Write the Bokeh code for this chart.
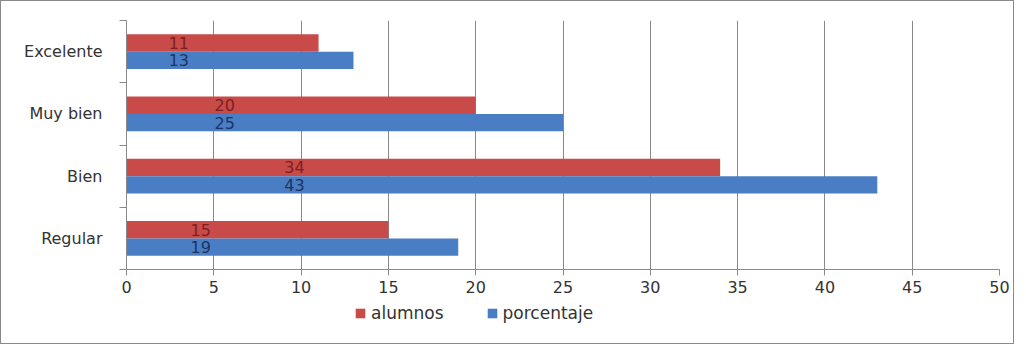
from bokeh.plotting import figure
from bokeh.layouts import column
from bokeh.models import (Range1d, FixedTicker, ColumnDataSource, Legend, LegendItem,
                          LabelSet)
from bokeh.core.properties import value
from bokeh.embed import file_html
from bokeh.resources import INLINE

categories = ["Excelente", "Muy bien", "Bien", "Regular"]
alumnos = [11, 20, 34, 15]
porcentaje = [13, 25, 43, 19]
x_ticks = [0, 5, 10, 15, 20, 25, 30, 35, 40, 45, 50]
series_names = ["alumnos", "porcentaje"]

RED = "#C84B49"
BLUE = "#4A7EC4"
FONT = "DejaVu Sans"
W = 1012

n = len(categories)
centers = [n - i - 0.5 for i in range(n)]
bar_h = 0.28
# value labels sit near the start of the bars, one anchor per category pair
pair_anchor = [(a + b) / 2 * 0.25 for a, b in zip(alumnos, porcentaje)]

src_a = ColumnDataSource(dict(
    y=[c + bar_h / 2 for c in centers], v=alumnos,
    lx=pair_anchor, t=[str(v) for v in alumnos]))
src_p = ColumnDataSource(dict(
    y=[c - bar_h / 2 for c in centers], v=porcentaje,
    lx=pair_anchor, t=[str(v) for v in porcentaje]))

p = figure(width=W, height=300, output_backend="svg", toolbar_location=None,
           x_range=Range1d(0, 50), y_range=Range1d(0, n),
           min_border_left=125, min_border_right=14, min_border_top=19,
           min_border_bottom=32)
p.outline_line_color = None

p.hbar(y="y", right="v", left=0, height=bar_h, source=src_a,
       fill_color=RED, line_color=None)
p.hbar(y="y", right="v", left=0, height=bar_h, source=src_p,
       fill_color=BLUE, line_color=None)

p.add_layout(LabelSet(x="lx", y="y", text="t", source=src_a, text_align="center",
                      text_baseline="middle", text_font=value(FONT),
                      text_font_size="16px", text_color="#7E1F1D"))
p.add_layout(LabelSet(x="lx", y="y", text="t", source=src_p, text_align="center",
                      text_baseline="middle", text_font=value(FONT),
                      text_font_size="16px", text_color="#1B3463"))

# x axis
p.xaxis.ticker = FixedTicker(ticks=x_ticks)
p.xaxis.axis_line_color = "#8a8a8a"
p.xaxis.major_tick_line_color = "#8a8a8a"
p.xaxis.major_tick_out = 6
p.xaxis.major_tick_in = 0
p.xaxis.minor_tick_line_color = None
p.xaxis.major_label_text_font = FONT
p.xaxis.major_label_text_font_size = "16px"
p.xaxis.major_label_text_color = "#333333"
p.xaxis.major_label_standoff = 5

# y axis: labels at centers, ticks at boundaries
p.yaxis.ticker = FixedTicker(ticks=centers, minor_ticks=list(range(n + 1)))
p.yaxis.major_label_overrides = {c: cat for c, cat in zip(centers, categories)}
p.yaxis.major_tick_line_color = None
p.yaxis.minor_tick_line_color = "#8a8a8a"
p.yaxis.minor_tick_out = 7
p.yaxis.minor_tick_in = 0
p.yaxis.axis_line_color = "#8a8a8a"
p.yaxis.major_label_text_font = FONT
p.yaxis.major_label_text_font_size = "16px"
p.yaxis.major_label_text_color = "#333333"
p.yaxis.major_label_standoff = 17

p.ygrid.grid_line_color = None
p.xgrid.ticker = FixedTicker(ticks=x_ticks)
p.xgrid.grid_line_color = "#8a8a8a"

# legend strip below the chart (its ranges keep the bars themselves out of view)
p2 = figure(width=W, height=42, output_backend="svg", toolbar_location=None,
            x_range=Range1d(0, 50), y_range=Range1d(100, 101),
            x_axis_location=None, y_axis_location=None, min_border=0)
p2.outline_line_color = None
p2.grid.grid_line_color = None
g_a = p2.hbar(y="y", right="v", left=0, height=bar_h, source=src_a,
              fill_color=RED, line_color=None)
g_p = p2.hbar(y="y", right="v", left=0, height=bar_h, source=src_p,
              fill_color=BLUE, line_color=None)
legend = Legend(items=[LegendItem(label=series_names[0], renderers=[g_a], index=0),
                       LegendItem(label=series_names[1], renderers=[g_p], index=0)],
                orientation="horizontal", location=(228, 20),
                label_text_font=FONT, label_text_font_size="17px",
                label_text_color="#333333", glyph_width=12, glyph_height=12,
                spacing=42, padding=2, margin=0, border_line_color=None,
                background_fill_alpha=0, label_standoff=5)
p2.add_layout(legend, "center")

layout = column(p, p2, spacing=0,
                styles={"border": "1px solid #8a8a8a", "box-sizing": "border-box"})

open("out.html", "w").write(file_html(layout, INLINE))
